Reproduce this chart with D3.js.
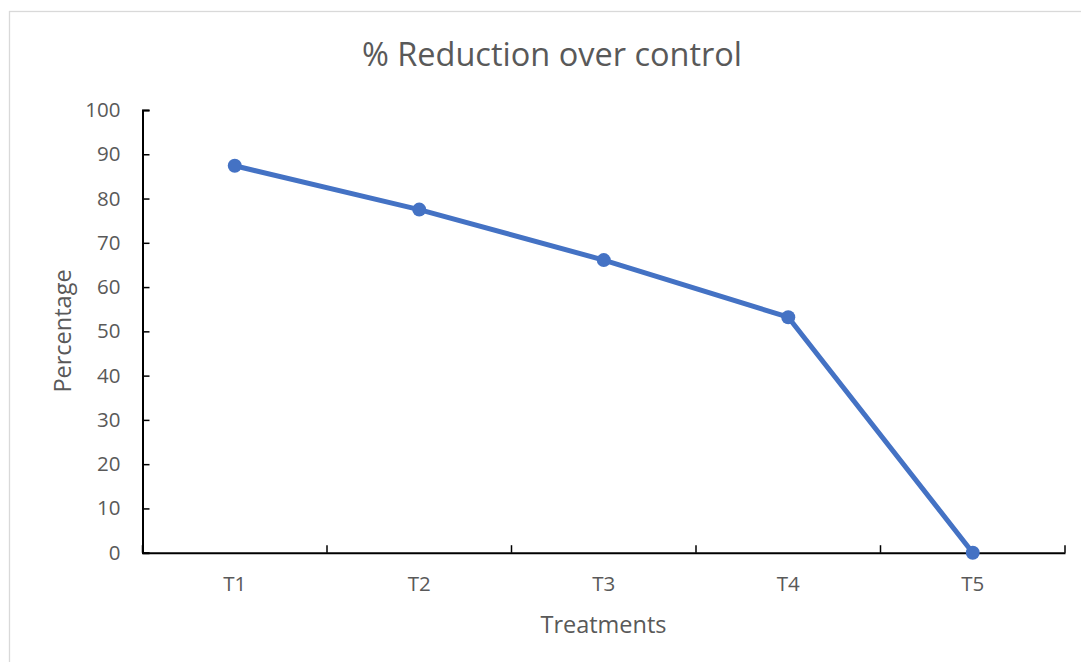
<!DOCTYPE html>
<html>
<head>
<meta charset="utf-8">
<script src="https://cdn.jsdelivr.net/npm/d3@7"></script>
<style>
  html, body { margin: 0; padding: 0; background: #fff; }
  svg { display: block; }
  text { font-family: "Open Sans", sans-serif; fill: #595959; }
</style>
</head>
<body>
<svg id="chart" width="1081" height="662"></svg>
<script>
const categories = ["T1", "T2", "T3", "T4", "T5"];
const values = [87.4, 77.5, 66.1, 53.2, 0];
const yTicks = [0, 10, 20, 30, 40, 50, 60, 70, 80, 90, 100];
const chartTitle = "% Reduction over control";
const xTitle = "Treatments";
const yTitle = "Percentage";

const W = 1081, H = 662;
const m = { left: 142.5, right: 1065, top: 110, bottom: 552.7 };
const svg = d3.select("#chart");

// chart border
svg.append("rect")
  .attr("x", 9.5).attr("y", 11.5)
  .attr("width", W + 20).attr("height", H + 20)
  .attr("fill", "#fff").attr("stroke", "#d9d9d9").attr("stroke-width", 1.3);

const x = d3.scaleBand().domain(categories).range([m.left, m.right]).padding(0);
const y = d3.scaleLinear().domain([0, 100]).range([m.bottom, m.top]);

// Y axis
const yAxis = svg.append("g")
  .attr("transform", `translate(${m.left},0)`)
  .call(d3.axisLeft(y).tickValues(yTicks).tickSize(-7).tickPadding(22));
yAxis.select(".domain").attr("stroke", "#000").attr("stroke-width", 2);
yAxis.selectAll(".tick line").attr("stroke", "#000").attr("stroke-width", 1.5);
yAxis.selectAll(".tick text").style("font-size", "20.5px").style("font-family", "Open Sans, sans-serif").attr("fill", "#595959");

// X axis
const xAxis = svg.append("g")
  .attr("transform", `translate(0,${m.bottom})`)
  .call(d3.axisBottom(x).tickSize(0).tickPadding(24));
xAxis.select(".domain").attr("stroke", "#000").attr("stroke-width", 2);
xAxis.selectAll(".tick text").style("font-size", "20.5px").style("font-family", "Open Sans, sans-serif").attr("fill", "#595959");

// category boundary ticks (inside, pointing up)
const bounds = categories.map(c => x(c)).concat([x(categories[categories.length - 1]) + x.bandwidth()]);
svg.append("g").selectAll("line").data(bounds).join("line")
  .attr("x1", d => d).attr("x2", d => d)
  .attr("y1", m.bottom).attr("y2", m.bottom - 7.5)
  .attr("stroke", "#000").attr("stroke-width", 1.5);

// line
const line = d3.line()
  .x((d, i) => x(categories[i]) + x.bandwidth() / 2)
  .y(d => y(d));
svg.append("path").datum(values)
  .attr("d", line)
  .attr("fill", "none")
  .attr("stroke", "#4472C4")
  .attr("stroke-width", 5)
  .attr("stroke-linejoin", "round");

svg.append("g").selectAll("circle").data(values).join("circle")
  .attr("cx", (d, i) => x(categories[i]) + x.bandwidth() / 2)
  .attr("cy", d => y(d))
  .attr("r", 7)
  .attr("fill", "#4472C4");

// titles
svg.append("text")
  .attr("x", 552).attr("y", 66)
  .attr("text-anchor", "middle")
  .style("font-size", "32.5px")
  .text(chartTitle);

svg.append("text")
  .attr("x", 603.5).attr("y", 633)
  .attr("text-anchor", "middle")
  .style("font-size", "23.5px")
  .text(xTitle);

svg.append("text")
  .attr("transform", `translate(71,331) rotate(-90)`)
  .attr("text-anchor", "middle")
  .style("font-size", "23.5px")
  .text(yTitle);
</script>
</body>
</html>
